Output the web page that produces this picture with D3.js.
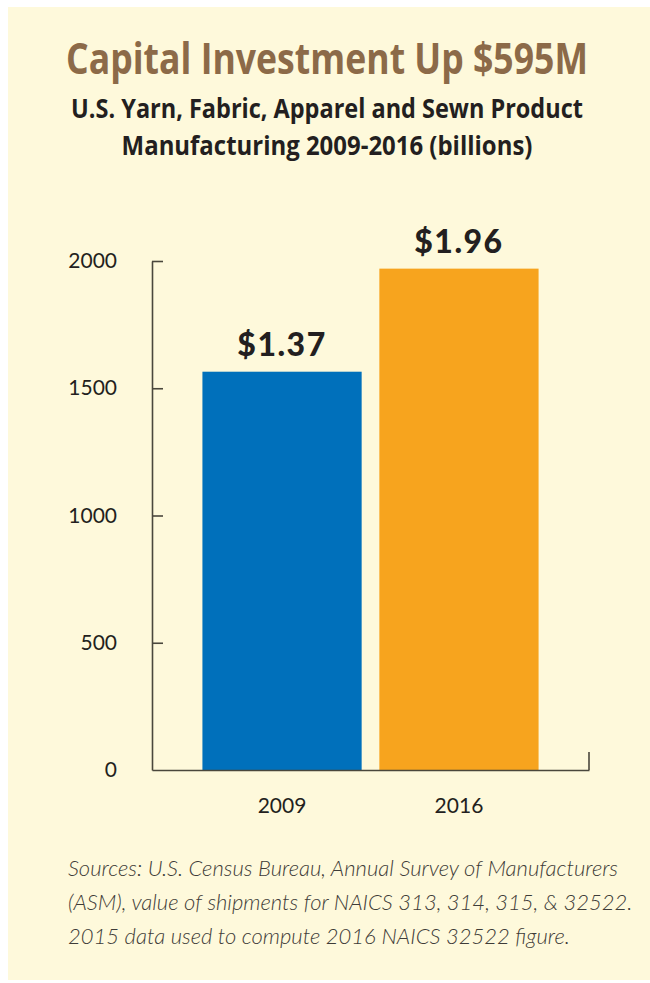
<!DOCTYPE html>
<html>
<head>
<meta charset="utf-8">
<script src="https://cdn.jsdelivr.net/npm/d3@7"></script>
<style>
  html, body { margin: 0; padding: 0; background: #fff; }
  svg { display: block; }
</style>
</head>
<body>
<div id="chart"></div>
<script>
  'use strict';

  // chart data
  var years = ['2009', '2016'];
  var values = [1565, 1970];
  var valueLabels = ['$1.37', '$1.96'];
  var yTicks = [0, 500, 1000, 1500, 2000];
  var barColors = ['#0070BB', '#F7A41E'];

  var titleText = 'Capital Investment Up $595M';
  var subtitleLines = [
    'U.S. Yarn, Fabric, Apparel and Sewn Product',
    'Manufacturing 2009-2016 (billions)'
  ];
  var sourceLines = [
    'Sources: U.S. Census Bureau, Annual Survey of Manufacturers',
    '(ASM), value of shipments for NAICS 313, 314, 315, & 32522.',
    '2015 data used to compute 2016 NAICS 32522 figure.'
  ];

  var width = 650, height = 983;
  var axisLeft = 152, axisRight = 589, axisTop = 261, axisBottom = 770;

  var svg = d3.select('#chart').append('svg')
    .attr('width', width)
    .attr('height', height);

  // cream panel
  svg.append('rect')
    .attr('x', 8)
    .attr('y', 7)
    .attr('width', width - 8)
    .attr('height', height - 10)
    .attr('fill', '#FEF9DB');

  // squeeze a centred text horizontally so it spans the wanted width
  function fitText(sel, cx, cy, wanted) {
    var natural = sel.node().getComputedTextLength();
    var sx = Math.min(1, wanted / natural);
    sel.attr('x', 0).attr('y', 0)
      .attr('transform', 'translate(' + cx + ',' + cy + ') scale(' + sx + ',1)');
  }

  // titles
  var title = svg.append('text')
    .attr('text-anchor', 'middle')
    .attr('font-family', 'Open Sans, sans-serif')
    .attr('font-weight', 700)
    .attr('font-size', 43)
    .attr('fill', '#8C6A48')
    .text(titleText);
  fitText(title, 327, 74, 522);

  var subLengths = [512, 411];
  var subY = [118, 155];
  svg.selectAll('text.subtitle')
    .data(subtitleLines)
    .enter().append('text')
    .attr('class', 'subtitle')
    .attr('text-anchor', 'middle')
    .attr('font-family', 'Open Sans, sans-serif')
    .attr('font-weight', 700)
    .attr('font-size', 26)
    .attr('fill', '#231F20')
    .text(function(d) { return d; })
    .each(function(d, i) { fitText(d3.select(this), 327, subY[i], subLengths[i]); });

  // scales
  var x = d3.scaleBand()
    .domain(years)
    .range([axisLeft, axisRight])
    .paddingInner(0.1)
    .paddingOuter(0.285);

  var y = d3.scaleLinear()
    .domain([0, 2000])
    .range([axisBottom, axisTop]);

  // bars
  svg.selectAll('rect.bar')
    .data(values)
    .enter().append('rect')
    .attr('class', 'bar')
    .attr('x', function(d, i) { return x(years[i]); })
    .attr('y', function(d) { return y(d); })
    .attr('width', x.bandwidth())
    .attr('height', function(d) { return y(0) - y(d); })
    .attr('fill', function(d, i) { return barColors[i]; });

  // value labels above bars
  svg.selectAll('text.value')
    .data(values)
    .enter().append('text')
    .attr('class', 'value')
    .attr('x', function(d, i) { return x(years[i]) + x.bandwidth() / 2; })
    .attr('y', function(d) { return y(d) - 16; })
    .attr('text-anchor', 'middle')
    .attr('font-family', 'Lato, sans-serif')
    .attr('font-weight', 900)
    .attr('font-size', 32)
    .attr('letter-spacing', 1.5)
    .attr('fill', '#231F20')
    .text(function(d, i) { return valueLabels[i]; });

  // y axis, ticks pointing inward
  var yAxis = d3.axisLeft(y)
    .tickValues(yTicks)
    .tickFormat(d3.format('d'))
    .tickSize(-11)
    .tickSizeOuter(0);

  var gy = svg.append('g')
    .attr('transform', 'translate(' + axisLeft + ',0)')
    .call(yAxis);
  gy.select('.domain').attr('stroke', '#4A473C').attr('stroke-width', 1.6);
  gy.selectAll('.tick line').attr('stroke', '#4A473C').attr('stroke-width', 1.6);
  gy.selectAll('.tick').filter(function(d) { return d === 0; }).select('line').remove();
  gy.selectAll('.tick text')
    .attr('x', -35)
    .attr('font-family', 'Lato, sans-serif')
    .attr('font-size', 21)
    .attr('fill', '#231F20');

  // x axis baseline with end tick at the right
  var xAxis = d3.axisBottom(x)
    .tickSize(0)
    .tickPadding(28)
    .tickSizeOuter(0);

  var gx = svg.append('g')
    .attr('transform', 'translate(0,' + axisBottom + ')')
    .call(xAxis);
  gx.select('.domain').attr('stroke', '#4A473C').attr('stroke-width', 1.6);
  gx.selectAll('.tick text')
    .attr('font-family', 'Lato, sans-serif')
    .attr('font-size', 21)
    .attr('fill', '#231F20');

  gx.append('line')
    .attr('x1', axisRight)
    .attr('x2', axisRight)
    .attr('y1', 0)
    .attr('y2', -18)
    .attr('stroke', '#4A473C')
    .attr('stroke-width', 1.6);

  // sources note
  var srcY = [876, 910, 944];
  svg.selectAll('text.source')
    .data(sourceLines)
    .enter().append('text')
    .attr('class', 'source')
    .attr('x', 68)
    .attr('y', function(d, i) { return srcY[i]; })
    .attr('font-family', 'Lato, sans-serif')
    .attr('font-style', 'italic')
    .attr('font-weight', 300)
    .attr('font-size', 22)
    .attr('fill', '#3E3C38')
    .text(function(d) { return d; });
</script>
</body>
</html>
